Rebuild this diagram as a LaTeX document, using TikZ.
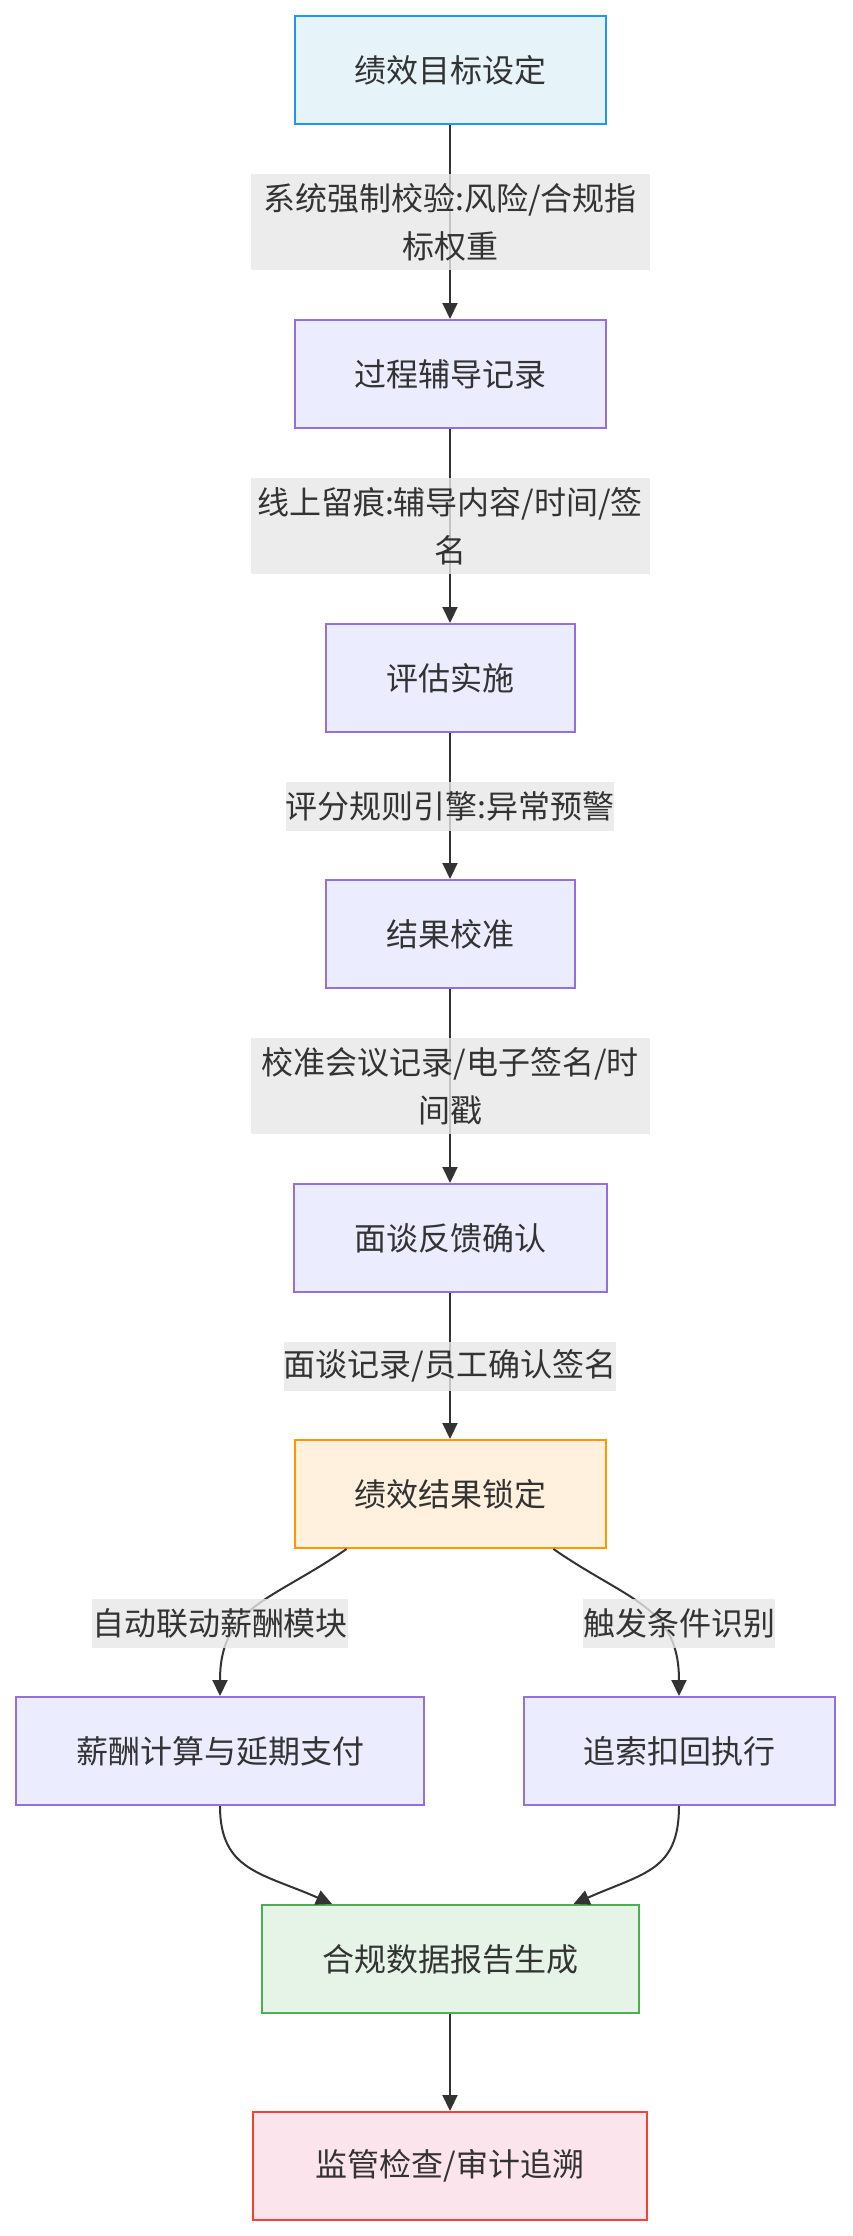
\documentclass[tikz,border=0pt]{standalone}
\usepackage{fontspec}
\setmainfont{Noto Sans CJK SC}
\definecolor{inkgray}{HTML}{333333}
\definecolor{goalfill}{HTML}{E6F4FA}
\definecolor{goalline}{HTML}{2196F3}
\definecolor{stepfill}{HTML}{ECECFF}
\definecolor{stepline}{HTML}{9370DB}
\definecolor{lockfill}{HTML}{FFF1DE}
\definecolor{lockline}{HTML}{FF9800}
\definecolor{reportfill}{HTML}{E6F4E7}
\definecolor{reportline}{HTML}{4CAF50}
\definecolor{auditfill}{HTML}{FCE4EC}
\definecolor{auditline}{HTML}{F44336}
\definecolor{lblgray}{HTML}{E8E8E8}
\usetikzlibrary{arrows.meta,calc}

\begin{document}
\begin{tikzpicture}[x=1pt,y=-1pt,
  box/.style={draw,line width=2pt,minimum height=108pt,font=\fontsize{32}{48}\selectfont,text=inkgray},
  goal/.style={box,fill=goalfill,draw=goalline},
  stepbox/.style={box,fill=stepfill,draw=stepline},
  lockbox/.style={box,fill=lockfill,draw=lockline},
  reportbox/.style={box,fill=reportfill,draw=reportline},
  auditbox/.style={box,fill=auditfill,draw=auditline},
  lbl/.style={fill=lblgray,fill opacity=0.8,text opacity=1,inner sep=0pt,minimum height=49pt,font=\fontsize{32}{48}\selectfont,text=inkgray,align=center},
  wraplbl/.style={lbl,minimum width=399pt,minimum height=96pt},
  flow/.style={draw=inkgray,line width=2pt,-{Triangle[length=16pt,width=15pt]}}]
  \path[fill=white] (0,0) rectangle (852,2236);
  \useasboundingbox (0,0) rectangle (852,2236);
  % Main chain
  \node[goal,minimum width=311pt] (goal) at (450,70) {绩效目标设定};
  \node[stepbox,minimum width=311pt] (coach) at (450,374) {过程辅导记录};
  \node[stepbox,minimum width=249pt] (assess) at (450,678) {评估实施};
  \node[stepbox,minimum width=249pt] (calib) at (450,934) {结果校准};
  \node[stepbox,minimum width=313pt] (talk) at (450,1238) {面谈反馈确认};
  \node[lockbox,minimum width=311pt] (lock) at (450,1494) {绩效结果锁定};
  % Branches
  \node[stepbox,minimum width=408pt] (pay) at (220,1751) {薪酬计算与延期支付};
  \node[stepbox,minimum width=311pt] (claw) at (679,1751) {追索扣回执行};
  % Output
  \node[reportbox,minimum width=377pt] (report) at (450,1959) {合规数据报告生成};
  \node[auditbox,minimum width=394pt] (audit) at (450,2166) {监管检查/审计追溯};
  % Arrows
  \draw[flow] (goal) -- node[wraplbl] (l1) {系统强制校验:风险/合规指\\标权重} (coach);
  \draw[flow] (coach) -- node[wraplbl] (l2) {线上留痕:辅导内容/时间/签\\名} (assess);
  \draw[flow] (assess) -- node[lbl] (l3) {评分规则引擎:异常预警} (calib);
  \draw[flow] (calib) -- node[wraplbl] (l4) {校准会议记录/电子签名/时\\间戳} (talk);
  \draw[flow] (talk) -- node[lbl] (l5) {面谈记录/员工确认签名} (lock);
  \draw[flow] (lock.208) .. controls +(-75,52) and +(0,-90) .. (pay.north);
  \draw[flow] (lock.332) .. controls +(75,52) and +(0,-90) .. (claw.north);
  \node[lbl] (l6) at (220,1623) {自动联动薪酬模块};
  \node[lbl] (l7) at (679,1623) {触发条件识别};
  \draw[flow] (pay.south) .. controls +(0,65) and +(-70,-31) .. (report.155);
  \draw[flow] (claw.south) .. controls +(0,65) and +(70,-31) .. (report.24);
  \draw[flow] (report) -- (audit);
\end{tikzpicture}
\end{document}
